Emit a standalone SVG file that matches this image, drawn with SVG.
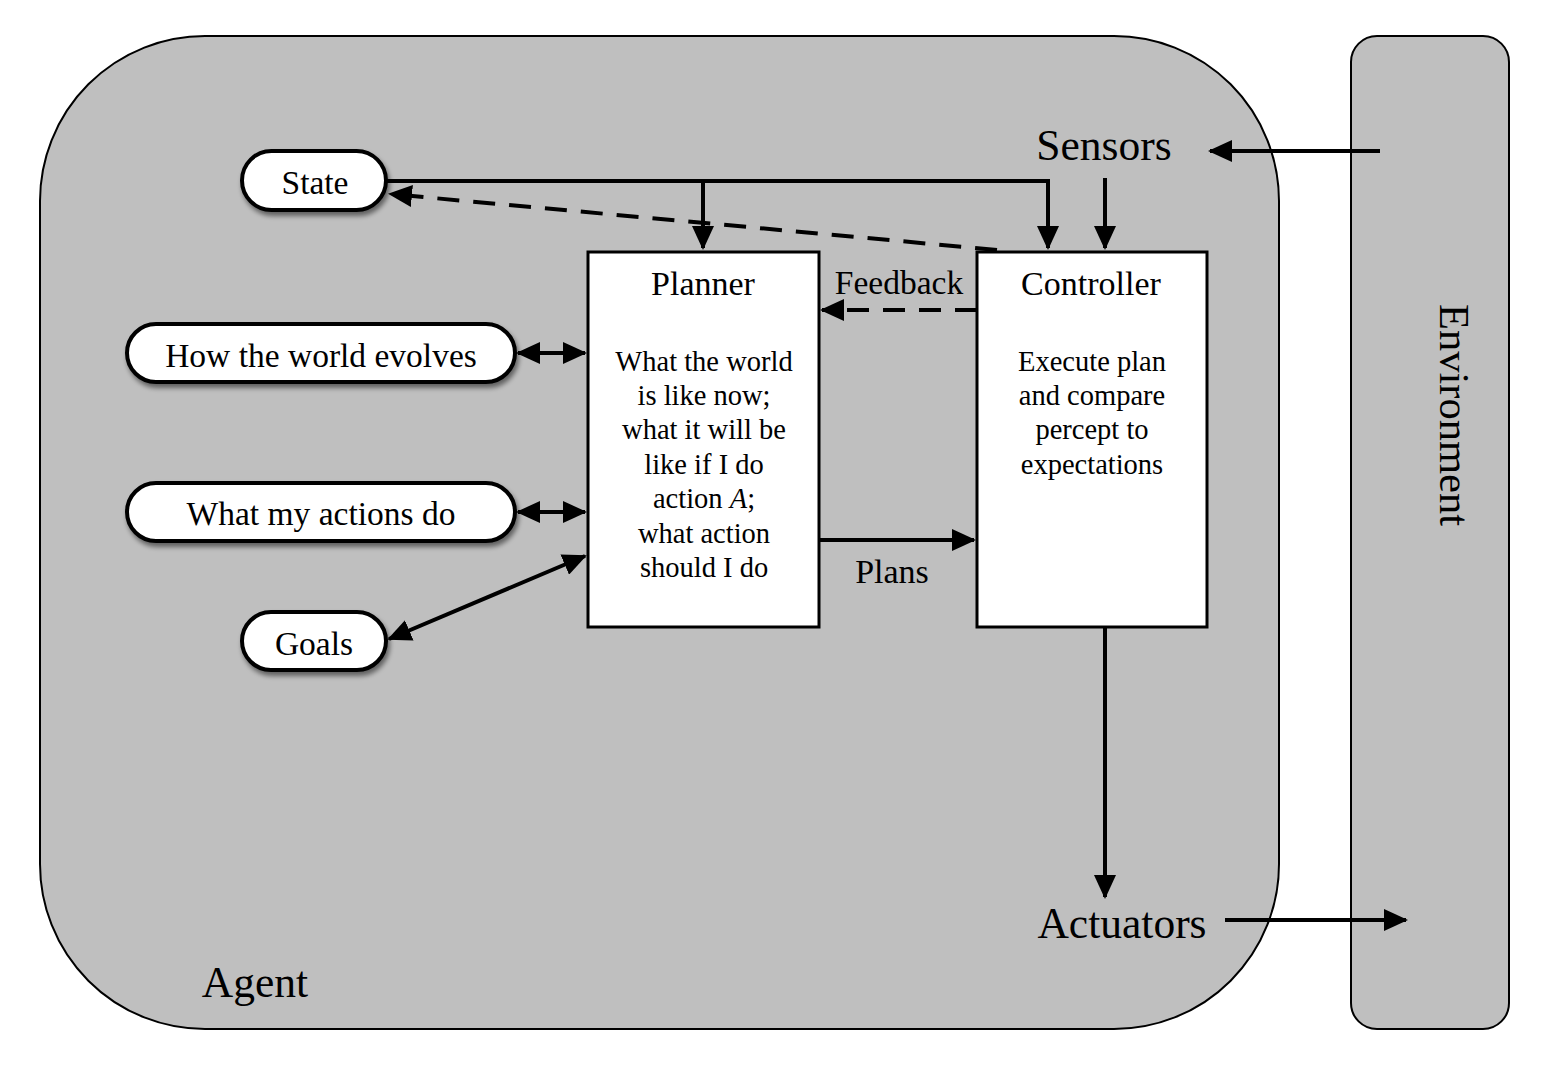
<svg xmlns="http://www.w3.org/2000/svg" width="1541" height="1082" viewBox="0 0 1541 1082">
<defs>
<style>
text{font-family:"Liberation Serif","Times New Roman",serif;fill:#000}
.pill{fill:#fff;stroke:#000;stroke-width:4}
.box{fill:#fff;stroke:#000;stroke-width:3}
.ln{fill:none;stroke:#000;stroke-width:4}
.dash{fill:none;stroke:#000;stroke-width:4;stroke-dasharray:22 14}
.t32{font-size:33.5px;text-anchor:middle}
.t30{font-size:34px;text-anchor:middle}
.t27{font-size:28.5px;text-anchor:middle}
.t40{font-size:43.5px;text-anchor:middle}
</style>
<marker id="ah" viewBox="0 0 12 11" refX="11" refY="5.5" markerWidth="6" markerHeight="5.5" markerUnits="strokeWidth" orient="auto-start-reverse">
<path d="M0,0 L12,5.5 L0,11 Z" fill="#000"/>
</marker>
<filter id="sh" x="-10%" y="-20%" width="125%" height="150%">
<feGaussianBlur in="SourceAlpha" stdDeviation="2.5"/>
<feOffset dx="2" dy="4" result="b"/>
<feComponentTransfer><feFuncA type="linear" slope="0.5"/></feComponentTransfer>
<feMerge><feMergeNode/><feMergeNode in="SourceGraphic"/></feMerge>
</filter>
</defs>
<rect width="1541" height="1082" fill="#fff"/>
<g id="agent">
<rect x="40" y="36" width="1239" height="993" rx="165" ry="165" fill="#bfbfbf" stroke="#000" stroke-width="2"/>
<text x="255" y="997" class="t40">Agent</text>
</g>
<g id="environment">
<rect x="1351" y="36" width="158" height="993" rx="26" ry="26" fill="#bfbfbf" stroke="#000" stroke-width="2"/>
<text transform="translate(1440,415) rotate(90)" style="font-size:42.5px;text-anchor:middle">Environment</text>
</g>
<g id="connectors">
<path class="ln" d="M386,181 L1048,181 L1048,248" marker-end="url(#ah)"/>
<path class="ln" d="M703,181 L703,248" marker-end="url(#ah)"/>
<path class="ln" d="M1105,178 L1105,248" marker-end="url(#ah)"/>
<path class="dash" d="M997,250 L390,194" marker-end="url(#ah)"/>
<path class="dash" d="M977,310 L822,310" marker-end="url(#ah)"/>
<path class="ln" d="M518,353 L585,353" marker-start="url(#ah)" marker-end="url(#ah)"/>
<path class="ln" d="M518,512 L585,512" marker-start="url(#ah)" marker-end="url(#ah)"/>
<path class="ln" d="M389,639 L585,556" marker-start="url(#ah)" marker-end="url(#ah)"/>
<path class="ln" d="M819,540 L974,540" marker-end="url(#ah)"/>
<path class="ln" d="M1105,627 L1105,897" marker-end="url(#ah)"/>
<path class="ln" d="M1380,151 L1210,151" marker-end="url(#ah)"/>
<path class="ln" d="M1225,920 L1406,920" marker-end="url(#ah)"/>
<text x="899" y="294" class="t32">Feedback</text>
<text x="892" y="583" class="t30">Plans</text>
</g>
<g id="sensors"><text x="1104" y="160" class="t40">Sensors</text></g>
<g id="actuators"><text x="1122" y="938" class="t40">Actuators</text></g>
<g id="state"><rect class="pill" x="242" y="151" width="144" height="59" rx="29.5" filter="url(#sh)"/><text x="315" y="194" class="t32">State</text></g>
<g id="world"><rect class="pill" x="127" y="324" width="388" height="58" rx="29" filter="url(#sh)"/><text x="321" y="367" class="t32">How the world evolves</text></g>
<g id="actions"><rect class="pill" x="127" y="483" width="388" height="58" rx="29" filter="url(#sh)"/><text x="321" y="525" class="t32">What my actions do</text></g>
<g id="goals"><rect class="pill" x="242" y="612" width="144" height="58" rx="29" filter="url(#sh)"/><text x="314" y="655" class="t32">Goals</text></g>
<g id="planner">
<rect class="box" x="588" y="252" width="231" height="375"/>
<text x="703" y="295" class="t30">Planner</text>
<text class="t27"><tspan x="704" y="371">What the world</tspan><tspan x="704" y="405">is like now;</tspan><tspan x="704" y="439">what it will be</tspan><tspan x="704" y="474">like if I do</tspan><tspan x="704" y="508">action <tspan font-style="italic">A</tspan>;</tspan><tspan x="704" y="543">what action</tspan><tspan x="704" y="577">should I do</tspan></text>
</g>
<g id="controller">
<rect class="box" x="977" y="252" width="230" height="375"/>
<text x="1091" y="295" class="t30">Controller</text>
<text class="t27"><tspan x="1092" y="371">Execute plan</tspan><tspan x="1092" y="405">and compare</tspan><tspan x="1092" y="439">percept to</tspan><tspan x="1092" y="474">expectations</tspan></text>
</g>
</svg>
